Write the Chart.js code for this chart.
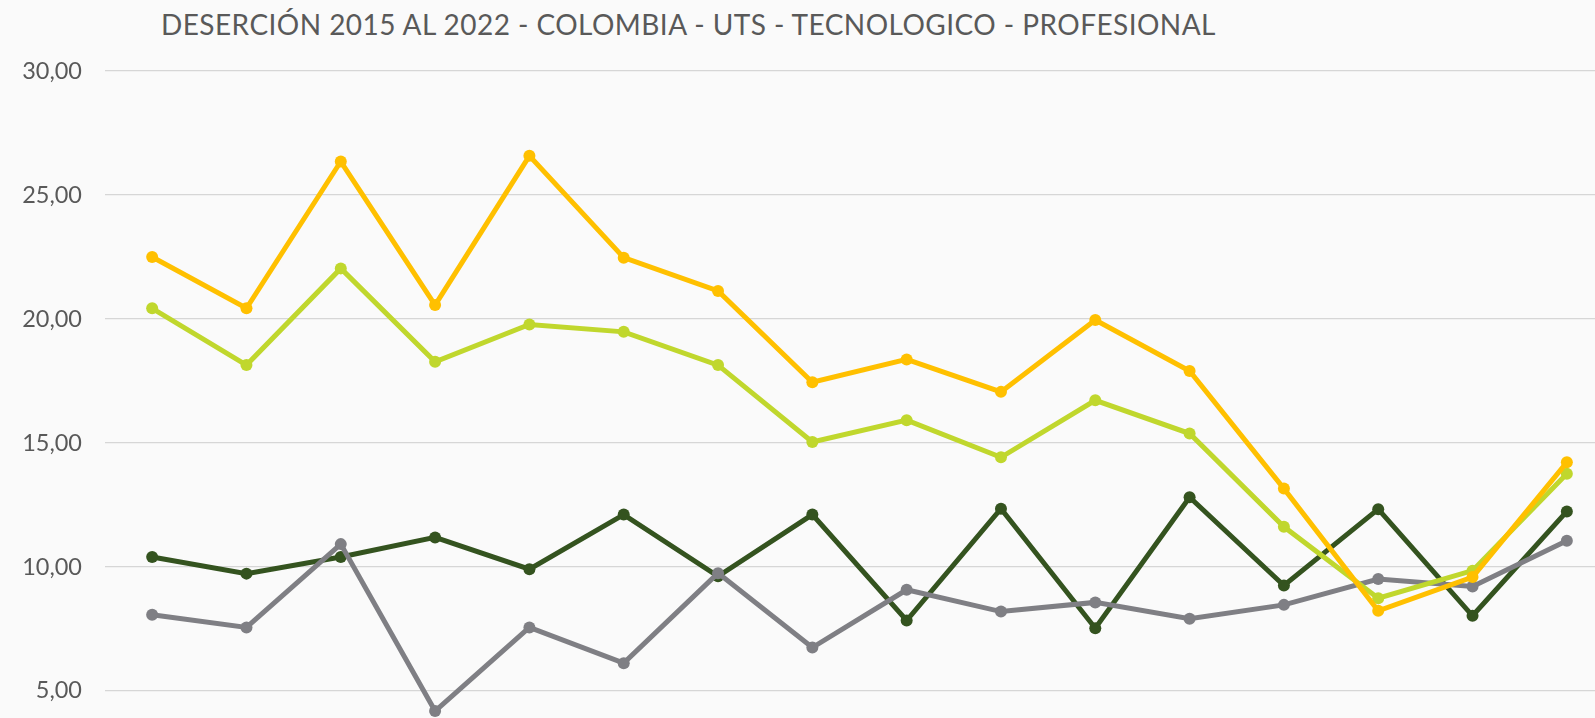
<!DOCTYPE html>
<html>
<head>
<meta charset="utf-8">
<script src="https://cdn.jsdelivr.net/npm/chart.js"></script>
<style>
    html, body { margin: 0; padding: 0; background: #fafafa; overflow: hidden; width: 1595px; height: 718px; }
    #title { position: absolute; left: 161px; top: 10px; font-family: Lato, sans-serif; font-size: 28px; line-height: 28px; letter-spacing: 0.45px; color: #595959; white-space: nowrap; }
    #desercionChart { position: absolute; left: 0; top: 0; }
</style>
</head>
<body>
<div id="title">DESERCIÓN 2015 AL 2022 - COLOMBIA - UTS - TECNOLOGICO - PROFESIONAL</div>
<canvas id="desercionChart" width="1620" height="852"></canvas>
<script>
const periods = ['2015-1', '2015-2', '2016-1', '2016-2', '2017-1', '2017-2', '2018-1', '2018-2',
    '2019-1', '2019-2', '2020-1', '2020-2', '2021-1', '2021-2', '2022-1', '2022-2'];

const utsTecnologico = [22.50, 20.43, 26.35, 20.56, 26.58, 22.47, 21.13, 17.45, 18.37, 17.06, 19.96, 17.90, 13.16, 8.23, 9.59, 14.22];
const utsProfesional = [20.43, 18.14, 22.04, 18.27, 19.78, 19.48, 18.14, 15.04, 15.92, 14.42, 16.72, 15.38, 11.62, 8.74, 9.85, 13.76];
const colombiaProfesional = [8.07, 7.56, 10.92, 4.19, 7.56, 6.12, 9.75, 6.75, 9.08, 8.20, 8.57, 7.91, 8.47, 9.51, 9.21, 11.06];
const colombiaTecnologico = [10.40, 9.73, 10.40, 11.19, 9.91, 12.11, 9.62, 12.11, 7.84, 12.35, 7.53, 12.81, 9.25, 12.33, 8.03, 12.24];

const yTicks = [0, 5, 10, 15, 20, 25, 30];

function serie(label, data, color) {
    return {
        label: label,
        data: data,
        borderColor: color,
        backgroundColor: color,
        borderWidth: 5,
        pointRadius: 6,
        pointBorderWidth: 0,
        pointBackgroundColor: color,
        tension: 0,
        fill: false
    };
}

const ctx = document.getElementById('desercionChart').getContext('2d');
new Chart(ctx, {
    type: 'line',
    data: {
        labels: periods,
        datasets: [
            serie('UTS - Tecnológico', utsTecnologico, '#ffc000'),
            serie('UTS - Profesional', utsProfesional, '#c0d72d'),
            serie('Colombia - Profesional', colombiaProfesional, '#7f7f84'),
            serie('Colombia - Tecnológico', colombiaTecnologico, '#34531f')
        ]
    },
    options: {
        responsive: false,
        animation: false,
        layout: { padding: { top: 71, right: 6, bottom: 27, left: 0 } },
        plugins: {
            legend: { display: false },
            tooltip: { enabled: false }
        },
        scales: {
            x: {
                display: false,
                offset: true
            },
            y: {
                min: 0,
                max: 30,
                afterBuildTicks: function (scale) {
                    scale.ticks = yTicks.map(v => ({ value: v }));
                },
                afterFit: function (scale) {
                    scale.width = 105;
                },
                border: { display: false },
                grid: { color: '#d6d6d6', lineWidth: 1.3, drawTicks: false },
                ticks: {
                    padding: 23,
                    color: '#595959',
                    font: { family: 'Lato', size: 23.5 },
                    callback: function (value) {
                        return value.toFixed(2).replace('.', ',');
                    }
                }
            }
        }
    }
});
</script>
</body>
</html>
